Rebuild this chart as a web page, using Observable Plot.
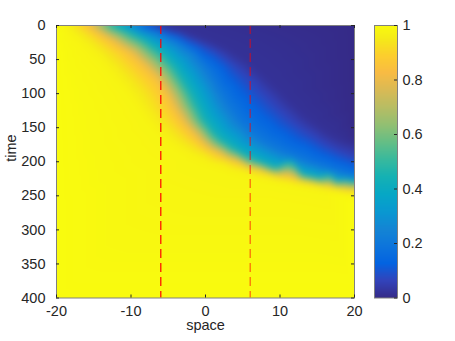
<!DOCTYPE html>
<html><head><meta charset="utf-8">
<script src="https://cdn.jsdelivr.net/npm/d3@7"></script>
<script src="https://cdn.jsdelivr.net/npm/@observablehq/plot@0.6"></script>
<style>
html,body{margin:0;padding:0;background:#fff;}
#chart{position:relative;width:455px;height:341px;overflow:hidden;background:#fff;}
#chart svg{position:absolute;top:0;}
</style></head><body><div id="chart"></div>
<script>
const times = [0,10,20,30,40,60,80,100,120,140,160,170,180,190,200,210,220,225,230,235,240,245,250,260,400];
// value at the left edge (space = -20) and right edge (space = 20)
const uLeft  = [0.99,1,1,1,1,1,1,1,1,1,1,1,1,1,1,1,1,1,1,1,1,1,1,1,1];
const uRight = [0,0,0,0,0,0,0,0,0,0,0,0.01,0.03,0.05,0.09,0.14,0.19,0.3,0.4,0.7,0.87,0.95,0.99,1,1];
// space position where the field crosses each level, per time row (null = not crossed)
const x98 = [-18.8,-18,-17,-16,-15,-13.3,-11.8,-10.3,-9,-7.7,-6,-5,-3.7,-2,0.2,3,6.5,8.5,11,13.5,16,18.5,null,null,null];
const x93 = [-17.5,-16.2,-15,-13.9,-12.8,-11,-9.3,-7.8,-6.7,-5.3,-3.6,-2.5,-1.2,0.6,3,5.5,9,11,13.2,15.5,18,null,null,null,null];
const x85 = [-16,-14.5,-13,-11.7,-10.2,-8.3,-6.5,-5.3,-4.4,-3.2,-1.6,-0.7,0.3,2.2,4.5,7,10.3,12.3,14.5,17,null,null,null,null,null];
const x45 = [-12.5,-10.3,-8.5,-7.2,-6,-4.3,-3.1,-2,-1.1,-0.2,1.2,2.2,3.5,5,7,9.3,13,15,17.5,null,null,null,null,null,null];
const x20 = [-9.2,-6.5,-4.5,-2.8,-1.5,0,1.2,2.2,3.3,4.6,6.5,7.8,9.5,11.5,13.8,16.5,19.5,null,null,null,null,null,null,null,null];
const x08 = [-7.6,-4.8,-2.5,-0.5,1.2,3.5,5.3,7,8.8,10.8,13.3,14.8,16.3,18.2,null,null,null,null,null,null,null,null,null,null,null];
const x02 = [-6.3,-3,-0.5,1.8,3.5,6.2,8.3,10.2,12,14,16.5,18.2,null,null,null,null,null,null,null,null,null,null,null,null,null];
const levelValues = [0.98,0.93,0.85,0.45,0.2,0.08,0.02];
const markers = [-6, 6];
const xTicks = [-20,-10,0,10,20];
const yTicks = [0,50,100,150,200,250,300,350,400];
const cTicks = [0,0.2,0.4,0.6,0.8,1];

// parula colour map stops
const parulaPos = [0,4,8,12,16,20,24,28,32,36,40,44,48,52,56,60,63].map(i => i/63);
const parulaCol = ["#352a87","#3243ba","#0363e1","#0d75dc","#1485d4","#0998d1","#06a7c6","#15b1b4","#38b99e","#65be86","#92bf73","#b7bd64","#d9ba56","#f8bb44","#fcce2e","#f5eb18","#f9fb0e"];
const parulaScale = d3.scaleLinear().domain(parulaPos).range(parulaCol).interpolate(d3.interpolateRgb).clamp(true);
const parula = t => parulaScale(t);

const levelX = [x98,x93,x85,x45,x20,x08,x02];
const field = [];
times.forEach((t, i) => {
  field.push({x: -20, t, u: uLeft[i]});
  levelX.forEach((arr, k) => { if (arr[i] != null) field.push({x: arr[i], t, u: levelValues[k]}); });
  field.push({x: 20, t, u: uRight[i]});
});

const FONT = "Liberation Sans, Arial, Helvetica, sans-serif";
const FS = 14.5;
const TXT = "#262626";
const frameW = 298, frameH = 272.5;

const main = Plot.plot({
  width: 455, height: 341,
  marginLeft: 56, marginRight: 101, marginTop: 25, marginBottom: 43.5,
  style: {fontFamily: FONT, fontSize: FS + "px", color: TXT, background: "white", overflow: "visible"},
  x: {domain: [-20, 20], label: null},
  y: {domain: [0, 400], reverse: true, label: null},
  color: {type: "linear", domain: [0, 1], interpolate: parula},
  marks: [
    Plot.raster(field, {x: "x", y: "t", fill: "u", interpolate: "barycentric", blur: 3, x1: -20, x2: 20, y1: 0, y2: 400}),
    Plot.ruleX([markers[0]], {x: d => d, stroke: "#ff0000", strokeWidth: 1.2, strokeDasharray: "9,5"}),
    Plot.ruleX([markers[1]], {x: d => d, stroke: "#ff0000", strokeOpacity: 0.6, strokeWidth: 1.2, strokeDasharray: "9,5"}),
    Plot.frame({stroke: "#808080", strokeWidth: 1}),
    Plot.tickX(xTicks, {x: d => d, insetTop: frameH - 3, stroke: TXT}),
    Plot.tickX(xTicks, {x: d => d, insetBottom: frameH - 3, stroke: TXT}),
    Plot.tickY(yTicks, {y: d => d, insetRight: frameW - 3, stroke: TXT}),
    Plot.tickY(yTicks, {y: d => d, insetLeft: frameW - 3, stroke: TXT}),
    Plot.axisX(xTicks, {anchor: "bottom", tickSize: 0, tickPadding: 7.5, tickFormat: d => String(d), label: null, fontSize: FS, fill: TXT}),
    Plot.axisY(yTicks, {anchor: "left", tickSize: 0, tickPadding: 11, tickFormat: d => String(d), label: null, fontSize: FS, fill: TXT}),
    Plot.text(["space"], {text: d => d, frameAnchor: "bottom", dy: 32.4, fontSize: FS, fill: TXT}),
    Plot.text(["time"], {text: d => d, frameAnchor: "left", dx: -45.6, rotate: -90, fontSize: FS, fill: TXT})
  ]
});
main.style.left = "0px";

const cb = Plot.plot({
  width: 95, height: 341,
  marginLeft: 14, marginRight: 58, marginTop: 25, marginBottom: 43.5,
  style: {fontFamily: FONT, fontSize: FS + "px", color: TXT, background: "transparent", overflow: "visible"},
  x: {domain: [0, 1], axis: null},
  y: {domain: [0, 1], axis: null},
  color: {type: "linear", domain: [0, 1], interpolate: parula},
  marks: [
    Plot.raster({fill: (x, y) => y, x1: 0, x2: 1, y1: 0, y2: 1}),
    Plot.frame({stroke: "#808080", strokeWidth: 1}),
    Plot.tickY(cTicks, {y: d => d, insetLeft: 20, stroke: TXT}),
    Plot.axisY(cTicks, {anchor: "right", tickSize: 0, tickPadding: 5, tickFormat: d => String(d), label: null, fontSize: FS, fill: TXT})
  ]
});
cb.style.left = "360px";

const root = document.getElementById("chart");
root.appendChild(main);
root.appendChild(cb);
</script>
</body></html>
